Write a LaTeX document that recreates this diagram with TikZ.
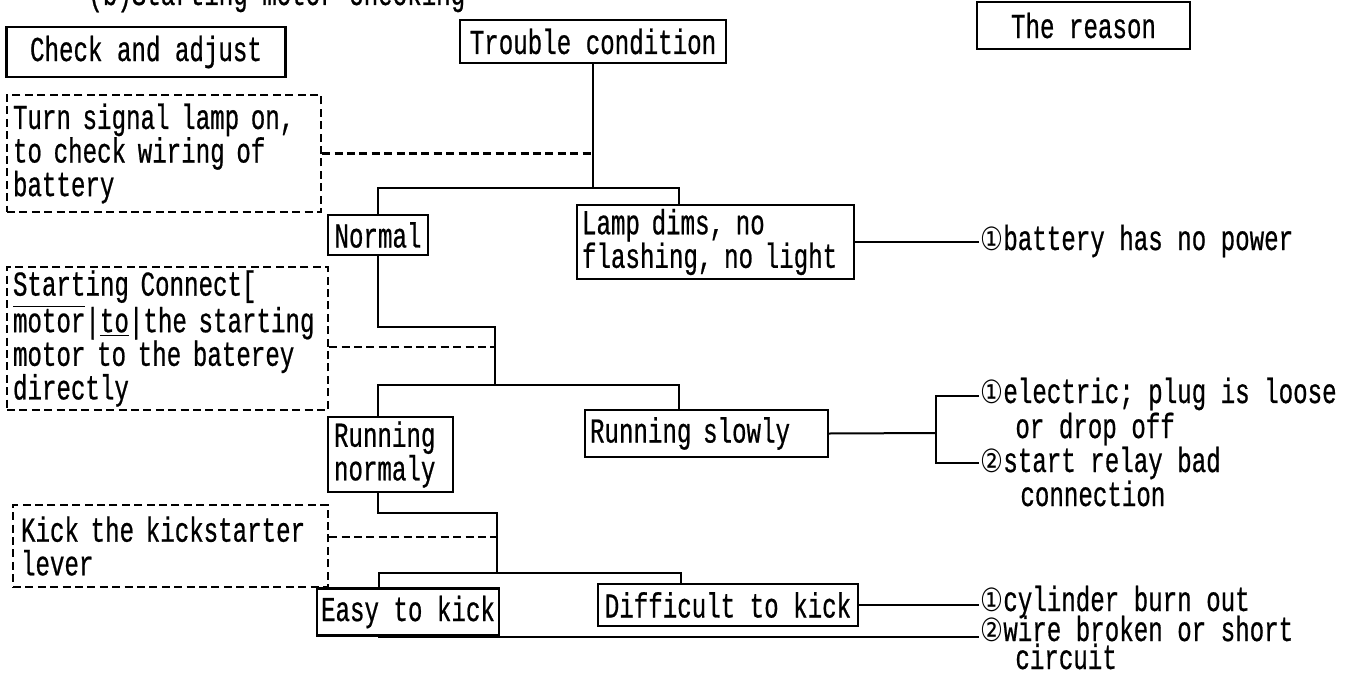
\documentclass[tikz,border=0pt]{standalone}
\usepackage{fontspec}
\setmainfont{Liberation Mono}[FakeStretch=0.69,FakeBold=0.6]
\newfontfamily\circfont{DejaVu Sans}[FakeStretch=0.8]
\newcommand{\cnum}[1]{{\circfont\fontsize{16}{16}\selectfont #1}}

\tikzset{
  txt/.style={font=\fontsize{17.5}{16.8}\selectfont},
  tbox/.style={txt,draw,line width=1.1pt,inner sep=0pt,align=center},
  dbox/.style={txt,draw,line width=1.1pt,dash pattern=on 4pt off 2.2pt,inner ysep=0pt,align=left},
  link/.style={line width=1pt},
  dline/.style={line width=1.1pt,dash pattern=on 4pt off 2.2pt},
  reason/.style={txt,anchor=base west,inner sep=0.5pt}
}

\begin{document}
\begin{tikzpicture}[x=0.5pt,y=-0.5pt]
\useasboundingbox (0,0) rectangle (1358,674);
\clip (0,0) rectangle (1358,674);

% headings
\node[txt,anchor=base west,inner sep=0pt] (title) at (88,5) {(b)Starting motor checking};
\node[tbox,minimum width=139.5pt,minimum height=25pt] (check) at (146,52) {Check and adjust};
\node[tbox,minimum width=133pt,minimum height=21.5pt] (trouble) at (593,41.5) {Trouble condition};
\node[tbox,minimum width=106.5pt,minimum height=23.5pt] (reason) at (1083.5,25.5) {The reason};

% check and adjust column
\node[dbox,inner xsep=3pt,text width=151pt,minimum height=58.5pt] (turn) at (164,153.5)
  {Turn signal lamp on,\\to check wiring of\\battery};
\node[dbox,inner xsep=3pt,text width=154.5pt,minimum height=71.5pt] (start) at (167.5,338.5)
  {Starting Connect[\\$\overline{\mbox{motor}}$|\underline{to}|the starting\\motor to the baterey\\directly};
\node[dbox,inner xsep=4pt,text width=149.5pt,minimum height=41pt] (kick) at (170.5,546)
  {Kick the kickstarter\\lever};

% trouble condition column
\node[tbox,minimum width=50pt,minimum height=20pt] (normal) at (378,235) {Normal};
\node[tbox,inner xsep=2.5pt,text width=133.5pt,align=left,minimum height=37pt] (lamp) at (715.5,242)
  {Lamp dims, no\\flashing, no light};
\node[tbox,inner xsep=3pt,text width=56.5pt,align=left,minimum height=37.5pt] (runnorm) at (390.5,454.5)
  {Running\\normaly};
\node[tbox,inner xsep=2.5pt,text width=116.5pt,align=left,minimum height=23.5pt] (runslow) at (706.5,433.5)
  {Running slowly};
\node[tbox,minimum width=91pt,minimum height=23.5pt] (easy) at (408,612) {Easy to kick};
\node[tbox,minimum width=130pt,minimum height=21pt] (diff) at (728,605) {Difficult to kick};

% reasons
\node[reason] (batt) at (979,250) {\cnum{①}battery has no power};
\node[reason] (elec) at (979,403) {\cnum{①}electric; plug is loose};
\node[reason] (elecb) at (1014,438) {or drop off};
\node[reason] (relay) at (979,472) {\cnum{②}start relay bad};
\node[reason] (relayb) at (1019,506) {connection};
\node[reason] (cyl) at (979,611) {\cnum{①}cylinder burn out};
\node[reason] (wire) at (979,641) {\cnum{②}wire broken or short};
\node[reason] (wireb) at (1014,669) {circuit};

% junctions
\coordinate (b1l) at (379,188);
\coordinate (b1r) at (679,188);
\coordinate (j2) at (495,327);
\coordinate (d2) at (495,347);
\coordinate (b2l) at (378,385);
\coordinate (b2r) at (679,385);
\coordinate (j3) at (497,513);
\coordinate (d3) at (497,537);
\coordinate (b3l) at (379,573);
\coordinate (b3r) at (681,573);
\coordinate (k2) at (936,433);
\coordinate (e1) at (979,240);
\coordinate (e2) at (979,396);
\coordinate (e3) at (979,463);
\coordinate (e4) at (979,605);
\coordinate (e5) at (979,637);

% first step
\draw[link] (trouble.south) -- (trouble.south |- b1l);
\draw[dline] (turn.east) -- (turn.east -| trouble.south);
\draw[link] (normal.north) |- (b1r) -- (b1r |- lamp.north);
\draw[link] (lamp.east) -- (lamp.east -| e1);

% second step
\draw[link] (normal.south) |- (j2) -- (j2 |- b2l);
\draw[dline] (start.east |- d2) -- (d2);
\draw[link] (b2l |- runnorm.north) -- (b2l) -- (b2r) -- (b2r |- runslow.north);
\draw[link] (runslow.east) -- (k2);
\draw[link] (e2) -- (e2 -| k2) -- (e3 -| k2) -- (e3);

% third step
\draw[link] (b2l |- runnorm.south) |- (j3) -- (j3 |- b3l);
\draw[dline] (kick.east |- d3) -- (d3);
\draw[link] (b3l |- easy.north) -- (b3l) -- (b3r) -- (b3r |- diff.north);
\draw[link] (diff.east) -- (diff.east -| e4);
\draw[link] (b3l |- easy.south) |- (e5);
\end{tikzpicture}
\end{document}
